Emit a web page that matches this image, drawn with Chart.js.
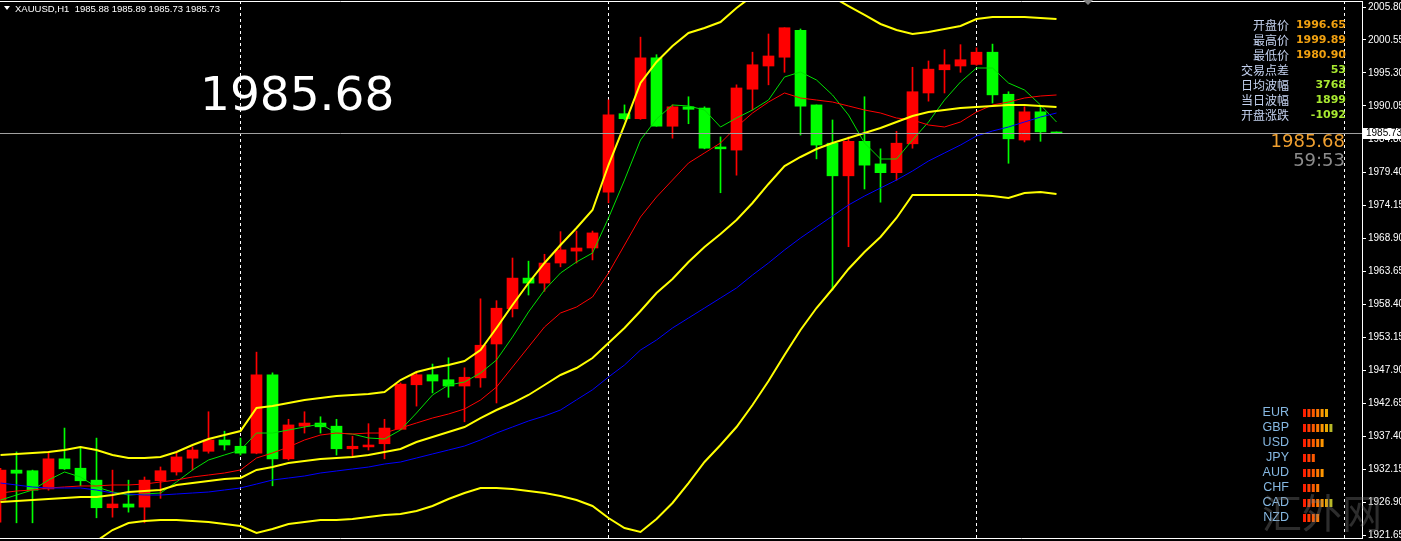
<!DOCTYPE html>
<html>
<head>
<meta charset="utf-8">
<script src="https://cdn.jsdelivr.net/npm/chart.js@4.4.1/dist/chart.umd.min.js"></script>
<style>
  html, body { margin: 0; padding: 0; background: #000; overflow: hidden; }
  #wrap { width: 1401px; height: 541px; }
</style>
</head>
<body>
<div id="wrap"><canvas id="chart" width="1401" height="541"></canvas></div>
<script>
// XAUUSD H1 candles, oldest first
var opens = [1927.2, 1932.0, 1931.9, 1929.0, 1933.8, 1932.3, 1930.4, 1926.0, 1926.6, 1926.1,
  1930.3, 1931.7, 1933.9, 1935.0, 1936.8, 1935.8, 1934.7, 1947.2, 1933.8, 1939.0,
  1939.5, 1939.0, 1935.4, 1935.7, 1936.2, 1938.5, 1945.6, 1947.2, 1946.4, 1945.4,
  1946.7, 1952.1, 1957.7, 1962.6, 1961.8, 1965.0, 1966.9, 1967.4, 1976.3, 1988.8,
  1988.0, 1997.7, 1986.8, 1989.9, 1989.7, 1983.5, 1983.0, 1992.7, 1996.4, 1997.8,
  2002.1, 1990.2, 1984.1, 1978.9, 1984.4, 1980.8, 1979.4, 1984.0, 1992.1, 1995.8,
  1996.4, 1996.65, 1998.6, 1991.9, 1984.6, 1989.1, 1985.88];
var highs = [1932.3, 1934.9, 1932.0, 1934.9, 1938.7, 1935.7, 1937.1, 1932.0, 1930.4, 1930.9,
  1932.5, 1934.9, 1935.7, 1941.3, 1938.2, 1937.1, 1950.8, 1947.5, 1940.1, 1941.3,
  1940.5, 1940.1, 1937.4, 1939.4, 1940.1, 1945.9, 1947.5, 1948.9, 1949.9, 1948.3,
  1959.3, 1959.0, 1965.8, 1965.3, 1966.4, 1970.0, 1970.1, 1970.1, 1991.0, 1990.2,
  2001.0, 1998.2, 1990.2, 1991.5, 1989.9, 1985.1, 1993.4, 1998.6, 2001.5, 2002.5,
  2002.3, 1990.2, 1987.8, 1985.1, 1991.5, 1983.2, 1986.0, 1996.2, 1997.2, 1999.0,
  1999.8, 1999.3, 1999.89, 1992.3, 1989.9, 1990.0, 1985.89];
var lows = [1923.7, 1923.6, 1923.6, 1928.8, 1932.1, 1929.5, 1924.4, 1924.5, 1925.3, 1923.6,
  1927.5, 1931.2, 1932.0, 1934.7, 1935.2, 1934.4, 1934.6, 1929.5, 1933.6, 1937.9,
  1937.9, 1934.4, 1934.1, 1935.2, 1933.8, 1938.4, 1942.2, 1944.3, 1943.6, 1939.7,
  1945.2, 1942.7, 1956.4, 1959.9, 1960.5, 1964.4, 1965.0, 1965.5, 1974.6, 1987.8,
  1987.9, 1986.8, 1984.9, 1987.2, 1983.2, 1976.2, 1979.0, 1989.4, 1993.4, 1995.4,
  1985.4, 1981.6, 1960.7, 1967.6, 1976.8, 1974.7, 1978.2, 1983.3, 1990.8, 1992.1,
  1995.4, 1996.5, 1990.5, 1980.9, 1984.3, 1984.4, 1985.73];
var closes = [1932.0, 1931.5, 1928.8, 1933.8, 1932.2, 1930.3, 1926.0, 1926.6, 1926.1, 1930.4,
  1931.9, 1934.1, 1935.2, 1936.8, 1936.0, 1934.7, 1947.2, 1933.8, 1939.2, 1939.5,
  1938.9, 1935.4, 1935.8, 1936.0, 1938.7, 1945.7, 1947.2, 1946.2, 1945.4, 1946.8,
  1951.9, 1957.8, 1962.6, 1961.8, 1965.0, 1967.1, 1967.4, 1969.8, 1988.6, 1988.0,
  1997.7, 1986.8, 1989.9, 1989.5, 1983.3, 1983.2, 1992.9, 1996.6, 1998.0, 2002.5,
  1990.0, 1983.8, 1978.9, 1984.4, 1980.6, 1979.4, 1984.1, 1992.3, 1995.9, 1996.6,
  1997.4, 1998.6, 1991.8, 1984.8, 1989.1, 1985.9, 1985.73];

// indicator lines, one value per candle
var maFast = [1927.23, 1928.03, 1928.83, 1930.42, 1931.70, 1930.90, 1929.31, 1928.51, 1928.03, 1928.19,
  1928.35, 1930.10, 1932.02, 1933.61, 1934.41, 1935.20, 1937.91, 1937.91, 1938.39, 1938.87,
  1939.35, 1937.91, 1937.75, 1937.12, 1936.96, 1938.39, 1941.10, 1943.97, 1945.56, 1946.04,
  1947.47, 1949.55, 1953.21, 1957.20, 1960.70, 1963.41, 1965.17, 1966.60, 1972.18, 1978.23,
  1984.61, 1987.95, 1990.19, 1990.03, 1989.39, 1986.68, 1988.11, 1989.39, 1990.98, 1994.65,
  1995.45, 1994.17, 1991.78, 1988.59, 1984.13, 1981.58, 1981.58, 1984.61, 1987.48, 1990.98,
  1993.85, 1996.08, 1996.08, 1993.69, 1992.58, 1990.19, 1987.48];
var maMid = [1928.35, 1928.67, 1928.83, 1929.15, 1929.31, 1929.47, 1929.47, 1929.63, 1929.63, 1929.78,
  1930.10, 1930.42, 1930.90, 1931.22, 1931.54, 1932.02, 1933.93, 1934.73, 1935.68, 1936.80,
  1937.59, 1937.91, 1937.75, 1937.91, 1937.91, 1938.71, 1939.51, 1940.30, 1940.94, 1941.74,
  1943.17, 1945.24, 1948.43, 1951.62, 1954.81, 1957.04, 1957.99, 1959.59, 1963.41, 1967.87,
  1972.34, 1975.52, 1978.23, 1980.94, 1982.54, 1984.13, 1986.68, 1988.91, 1990.66, 1992.10,
  1991.30, 1990.98, 1990.66, 1990.03, 1989.39, 1988.91, 1988.11, 1987.80, 1987.00, 1986.68,
  1987.48, 1989.07, 1990.19, 1990.66, 1991.30, 1991.62, 1991.78];
var maSlow = [1929.94, 1929.63, 1929.31, 1929.15, 1929.15, 1929.15, 1928.83, 1928.35, 1928.19, 1928.03,
  1928.03, 1928.19, 1928.35, 1928.51, 1928.83, 1929.15, 1929.78, 1930.42, 1930.74, 1931.06,
  1931.54, 1931.86, 1932.18, 1932.49, 1932.97, 1933.29, 1933.93, 1934.57, 1935.20, 1935.84,
  1936.80, 1937.91, 1938.87, 1939.83, 1940.62, 1941.58, 1943.20, 1944.80, 1946.84, 1948.75,
  1951.14, 1952.73, 1954.65, 1956.24, 1957.83, 1959.43, 1961.02, 1963.09, 1965.01, 1967.08,
  1968.99, 1970.74, 1972.50, 1974.25, 1975.68, 1976.96, 1978.23, 1979.67, 1981.26, 1982.54,
  1983.81, 1985.25, 1986.04, 1986.68, 1987.48, 1988.27, 1988.91];
var bbUpper = [1934.41, 1934.57, 1934.73, 1934.88, 1935.20, 1935.68, 1935.20, 1934.41, 1933.93, 1933.93,
  1934.09, 1934.88, 1936.00, 1936.96, 1937.59, 1938.23, 1941.90, 1942.22, 1942.69, 1943.17,
  1943.49, 1943.81, 1943.97, 1944.13, 1944.45, 1946.36, 1947.63, 1948.27, 1948.75, 1949.39,
  1951.14, 1954.65, 1958.31, 1961.82, 1965.01, 1967.87, 1970.58, 1973.45, 1980.62, 1987.00,
  1993.69, 1997.04, 1999.59, 2001.66, 2002.46, 2003.41, 2005.65, 2007.56, 2008.83, 2009.47,
  2009.15, 2008.35, 2007.40, 2005.96, 2004.53, 2003.10, 2002.14, 2001.50, 2001.82, 2002.30,
  2002.78, 2003.89, 2004.21, 2004.21, 2004.21, 2004.05, 2003.89];
var bbMiddle = [1926.92, 1927.08, 1927.23, 1927.39, 1927.55, 1927.71, 1927.71, 1928.03, 1928.51, 1928.67,
  1928.83, 1929.63, 1929.94, 1930.26, 1930.58, 1930.74, 1932.02, 1932.49, 1933.13, 1933.45,
  1933.77, 1933.93, 1934.09, 1934.41, 1934.88, 1935.36, 1936.48, 1937.28, 1938.07, 1938.87,
  1940.30, 1941.58, 1942.69, 1943.97, 1945.56, 1947.16, 1948.27, 1949.87, 1952.26, 1954.65,
  1957.36, 1960.23, 1962.46, 1965.17, 1967.56, 1969.63, 1971.86, 1974.57, 1977.60, 1980.46,
  1981.90, 1983.17, 1984.13, 1984.93, 1985.72, 1986.52, 1987.48, 1988.43, 1989.07, 1989.39,
  1989.71, 1989.87, 1990.03, 1990.19, 1990.19, 1990.03, 1989.87];
var bbLower = [1919.43, 1919.59, 1919.74, 1919.90, 1919.90, 1919.74, 1920.70, 1922.45, 1923.57, 1923.89,
  1924.05, 1924.05, 1923.89, 1923.73, 1923.41, 1923.09, 1921.98, 1922.61, 1923.41, 1923.73,
  1924.05, 1924.05, 1924.21, 1924.53, 1924.84, 1925.00, 1925.48, 1926.28, 1927.39, 1928.35,
  1929.15, 1929.15, 1928.99, 1928.67, 1928.35, 1927.87, 1927.23, 1926.28, 1924.37, 1922.77,
  1922.14, 1924.21, 1926.76, 1929.94, 1933.29, 1936.00, 1938.87, 1942.38, 1946.20, 1950.34,
  1954.33, 1957.83, 1960.86, 1964.05, 1966.76, 1969.15, 1972.18, 1975.84, 1975.84, 1975.84,
  1975.84, 1975.84, 1975.68, 1975.36, 1976.16, 1976.32, 1976.00];

var priceTicks = [2005.80, 2000.55, 1995.30, 1990.05, 1984.80, 1979.40, 1974.15, 1968.90, 1963.65,
  1958.40, 1953.15, 1947.90, 1942.65, 1937.40, 1932.15, 1926.90, 1921.65];
var daySeparators = [15, 38, 61, 84];
var bidPrice = 1985.73;
var titleText = 'XAUUSD,H1  1985.88 1985.89 1985.73 1985.73';
var bigPrice = '1985.68';
var countdown = '59:53';
var infoLabels = ['开盘价', '最高价', '最低价', '交易点差', '日均波幅', '当日波幅', '开盘涨跌'];
var infoValues = ['1996.65', '1999.89', '1980.90', '53', '3768', '1899', '-1092'];
var currencies = ['EUR', 'GBP', 'USD', 'JPY', 'AUD', 'CHF', 'CAD', 'NZD'];
var currencyStrength = [6, 7, 5, 3, 5, 4, 7, 4];

(function () {
  'use strict';

  var RED = '#ff0000';
  var GREEN = '#00ff00';
  var strengthColors = ['#ff1e00', '#ff3c00', '#ff5a00', '#ff7800', '#ff9600', '#eaa800', '#b8b828'];

  var idx = opens.map(function (_v, i) { return i; });
  var candleColors = idx.map(function (i) {
    return closes[i] >= opens[i] ? RED : GREEN;
  });

  function line(values, color, width) {
    return {
      type: 'line',
      data: values.map(function (v, i) { return { x: i, y: v }; }),
      borderColor: color,
      borderWidth: width,
      pointRadius: 0,
      tension: 0,
      fill: false,
      order: 0,
    };
  }

  var overlay = {
    id: 'overlay',
    beforeDatasetsDraw: function (chart) {
      var ctx = chart.ctx;
      var a = chart.chartArea;
      var xs = chart.scales.x;
      ctx.save();
      ctx.strokeStyle = '#ffffff';
      ctx.lineWidth = 1;
      ctx.setLineDash([3, 3]);
      daySeparators.forEach(function (k) {
        var px = Math.floor(xs.getPixelForValue(k)) + 0.5;
        ctx.beginPath();
        ctx.moveTo(px, a.top);
        ctx.lineTo(px, a.bottom);
        ctx.stroke();
      });
      ctx.restore();
    },
    afterDatasetsDraw: function (chart) {
      var ctx = chart.ctx;
      var a = chart.chartArea;
      var ys = chart.scales.y;
      ctx.save();
      // bid line
      var py = Math.round(ys.getPixelForValue(bidPrice)) + 0.5;
      ctx.strokeStyle = '#a0a0a0';
      ctx.lineWidth = 1;
      ctx.beginPath();
      ctx.moveTo(a.left, py);
      ctx.lineTo(a.right, py);
      ctx.stroke();
      // frame
      ctx.strokeStyle = '#ffffff';
      ctx.beginPath();
      ctx.moveTo(a.left, a.top + 0.5);
      ctx.lineTo(a.right, a.top + 0.5);
      ctx.moveTo(a.left, a.bottom + 0.5);
      ctx.lineTo(a.right, a.bottom + 0.5);
      ctx.stroke();
      ctx.restore();
    },
    afterDraw: function (chart) {
      var ctx = chart.ctx;
      var a = chart.chartArea;
      var ys = chart.scales.y;
      ctx.save();

      // title
      ctx.fillStyle = '#ffffff';
      ctx.beginPath();
      ctx.moveTo(4, 6);
      ctx.lineTo(10, 6);
      ctx.lineTo(7, 10);
      ctx.closePath();
      ctx.fill();
      ctx.font = '9.5px "Liberation Sans"';
      ctx.textBaseline = 'alphabetic';
      ctx.textAlign = 'left';
      ctx.fillText(titleText, 15, 12);

      // big price
      ctx.font = '47px "DejaVu Sans"';
      ctx.fillText(bigPrice, 200, 110);

      // chart shift marker
      ctx.fillStyle = '#808080';
      ctx.beginPath();
      ctx.moveTo(1083, 0);
      ctx.lineTo(1093, 0);
      ctx.lineTo(1088, 5);
      ctx.closePath();
      ctx.fill();

      // info panel
      ctx.textBaseline = 'middle';
      infoLabels.forEach(function (lab, i) {
        var yy = 25 + i * 15;
        ctx.textAlign = 'right';
        ctx.font = '12px "Noto Sans CJK SC"';
        ctx.fillStyle = '#c4d2f0';
        ctx.fillText(lab, 1289, yy);
        ctx.font = 'bold 11px "DejaVu Sans"';
        ctx.fillStyle = i < 3 ? '#f0a010' : '#a8e830';
        ctx.fillText(infoValues[i], 1346, yy);
      });
      ctx.textAlign = 'right';
      ctx.font = '18px "DejaVu Sans"';
      ctx.fillStyle = '#f0a030';
      ctx.fillText(bigPrice, 1345, 142);
      ctx.fillStyle = '#8c8c8c';
      ctx.fillText(countdown, 1345, 161);

      // currency strength
      currencies.forEach(function (cur, i) {
        var yy = 413 + i * 15;
        ctx.textAlign = 'right';
        ctx.font = '12.5px "Liberation Sans"';
        ctx.fillStyle = '#86b8e2';
        ctx.fillText(cur, 1289, yy);
        for (var j = 0; j < currencyStrength[i]; j++) {
          ctx.fillStyle = strengthColors[Math.min(j, strengthColors.length - 1)];
          ctx.fillRect(1303 + j * 4.4, yy - 4, 3, 8);
        }
      });

      // watermark
      ctx.textAlign = 'left';
      ctx.font = '40px "Noto Sans CJK SC"';
      ctx.fillStyle = 'rgba(128,128,128,0.35)';
      ctx.fillText('汇外网', 1262, 513);

      // bid price box on the axis
      var by = Math.round(ys.getPixelForValue(bidPrice));
      ctx.fillStyle = '#ffffff';
      ctx.fillRect(a.right + 1, by - 5, 39, 11);
      ctx.fillStyle = '#000000';
      ctx.textAlign = 'left';
      ctx.font = '10px "Liberation Sans"';
      ctx.fillText(bidPrice.toFixed(2), a.right + 4, by + 0.5);

      ctx.restore();
    },
  };

  new Chart(document.getElementById('chart'), {
    type: 'bar',
    data: {
      datasets: [
        line(bbUpper, '#ffff00', 2),
        line(bbMiddle, '#ffff00', 2),
        line(bbLower, '#ffff00', 2),
        line(maSlow, '#0000ff', 1),
        line(maMid, '#ff0000', 1),
        line(maFast, '#00e000', 1),
        {
          type: 'bar',
          data: idx.map(function (i) { return { x: i, y: [opens[i], closes[i]] }; }),
          backgroundColor: candleColors,
          borderWidth: 0,
          borderSkipped: false,
          barThickness: 11,
          minBarLength: 1,
          grouped: false,
          order: 1,
        },
        {
          type: 'bar',
          data: idx.map(function (i) { return { x: i, y: [lows[i], highs[i]] }; }),
          backgroundColor: candleColors,
          borderWidth: 0,
          borderSkipped: false,
          barThickness: 1,
          grouped: false,
          order: 2,
        },
      ],
    },
    options: {
      responsive: false,
      animation: false,
      devicePixelRatio: 1,
      events: [],
      layout: { padding: { left: 0, right: 0, top: 1, bottom: 3 } },
      plugins: { legend: { display: false }, tooltip: { enabled: false } },
      scales: {
        x: {
          type: 'linear',
          min: -0.03125,
          max: 85.09375,
          offset: false,
          display: false,
        },
        y: {
          type: 'linear',
          position: 'right',
          min: 1921.18,
          max: 2006.76,
          afterBuildTicks: function (s) {
            s.ticks = priceTicks.map(function (v) { return { value: v }; });
          },
          afterFit: function (s) {
            s.width = 39;
            s.paddingTop = 0;
            s.paddingBottom = 0;
          },
          ticks: {
            color: '#ffffff',
            autoSkip: false,
            padding: 2,
            font: { family: 'Liberation Sans', size: 10 },
            callback: function (v) { return Number(v).toFixed(2); },
          },
          grid: { drawOnChartArea: false, drawTicks: true, tickLength: 4, color: '#ffffff' },
          border: { display: true, color: '#ffffff', width: 1 },
        },
      },
    },
    plugins: [overlay],
  });
})();
</script>
</body>
</html>
